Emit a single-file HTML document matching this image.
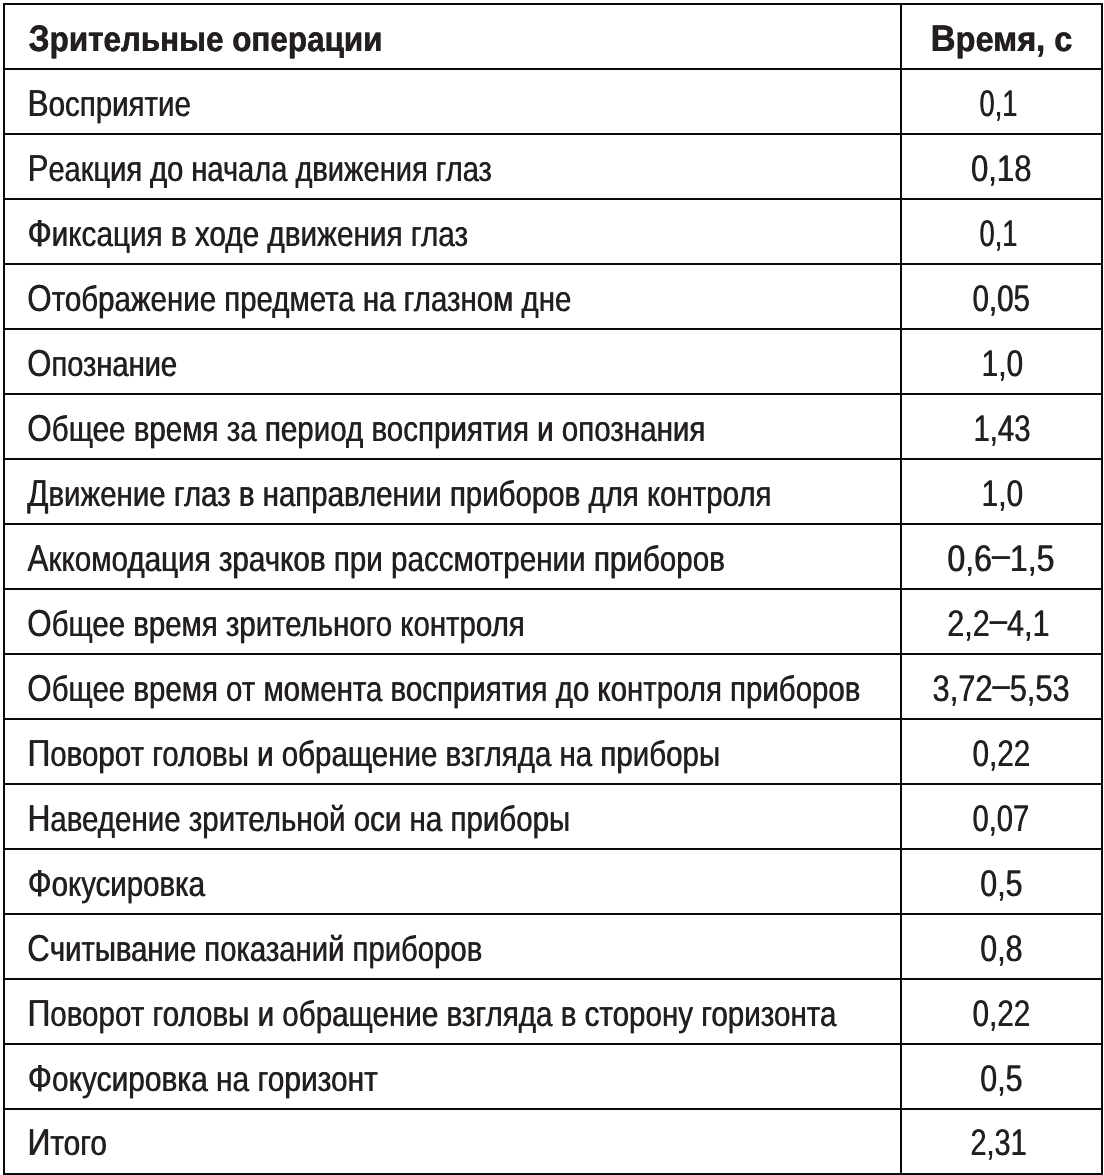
<!DOCTYPE html>
<html lang="ru">
<head>
<meta charset="utf-8">
<title>Зрительные операции</title>
<style>
html,body{margin:0;padding:0;background:#fff;}
svg{display:block;}
text{font-family:"Liberation Sans",sans-serif;fill:#231f20;text-rendering:geometricPrecision;text-shadow:0.7px 0 0 #231f20;}
.b{font-weight:bold;text-shadow:0.3px 0 0 #231f20;stroke:#231f20;stroke-width:0.2px;}
</style>
</head>
<body>
<svg width="1104" height="1175" viewBox="0 0 1104 1175">
<rect x="0" y="0" width="1104" height="1175" fill="#fff"/>
<g fill="#0a0a0a">
<rect x="3" y="3" width="1100" height="2"/>
<rect x="3" y="68" width="1100" height="2"/>
<rect x="3" y="133" width="1100" height="2"/>
<rect x="3" y="198" width="1100" height="2"/>
<rect x="3" y="263" width="1100" height="2"/>
<rect x="3" y="328" width="1100" height="2"/>
<rect x="3" y="393" width="1100" height="2"/>
<rect x="3" y="458" width="1100" height="2"/>
<rect x="3" y="523" width="1100" height="2"/>
<rect x="3" y="588" width="1100" height="2"/>
<rect x="3" y="653" width="1100" height="2"/>
<rect x="3" y="718" width="1100" height="2"/>
<rect x="3" y="783" width="1100" height="2"/>
<rect x="3" y="848" width="1100" height="2"/>
<rect x="3" y="913" width="1100" height="2"/>
<rect x="3" y="978" width="1100" height="2"/>
<rect x="3" y="1043" width="1100" height="2"/>
<rect x="3" y="1108" width="1100" height="2"/>
<rect x="3" y="1173" width="1100" height="2"/>
<rect x="3" y="3" width="2" height="1172"/>
<rect x="900" y="3" width="2" height="1172"/>
<rect x="1101" y="3" width="2" height="1172"/>
</g>
<text class="b" x="28.48" y="51.00" textLength="353.88" lengthAdjust="spacingAndGlyphs"><tspan font-size="37.0">З</tspan><tspan font-size="34.7">рительные операции</tspan></text>
<text class="b" x="930.53" y="51.00" textLength="141.69" lengthAdjust="spacingAndGlyphs"><tspan font-size="37.0">В</tspan><tspan font-size="34.7">ремя, с</tspan></text>
<text x="27.35" y="115.97" textLength="163.26" lengthAdjust="spacingAndGlyphs"><tspan font-size="37.6">В</tspan><tspan font-size="35.3">осприятие</tspan></text>
<text font-size="37.0" x="979.25" y="115.97" textLength="37.94" lengthAdjust="spacingAndGlyphs">0,1</text>
<text x="27.48" y="180.94" textLength="464.11" lengthAdjust="spacingAndGlyphs"><tspan font-size="37.6">Р</tspan><tspan font-size="35.3">еакция до начала движения глаз</tspan></text>
<text font-size="37.0" x="970.63" y="180.94" textLength="60.65" lengthAdjust="spacingAndGlyphs">0,18</text>
<text x="27.32" y="245.91" textLength="440.48" lengthAdjust="spacingAndGlyphs"><tspan font-size="37.6">Ф</tspan><tspan font-size="35.3">иксация в ходе движения глаз</tspan></text>
<text font-size="37.0" x="979.25" y="245.91" textLength="37.94" lengthAdjust="spacingAndGlyphs">0,1</text>
<text x="27.03" y="310.88" textLength="544.08" lengthAdjust="spacingAndGlyphs"><tspan font-size="37.6">О</tspan><tspan font-size="35.3">тображение предмета на глазном дне</tspan></text>
<text font-size="37.0" x="972.18" y="310.88" textLength="57.56" lengthAdjust="spacingAndGlyphs">0,05</text>
<text x="27.05" y="375.85" textLength="149.75" lengthAdjust="spacingAndGlyphs"><tspan font-size="37.6">О</tspan><tspan font-size="35.3">познание</tspan></text>
<text font-size="37.0" x="981.23" y="375.85" textLength="41.65" lengthAdjust="spacingAndGlyphs">1,0</text>
<text x="27.03" y="440.82" textLength="678.08" lengthAdjust="spacingAndGlyphs"><tspan font-size="37.6">О</tspan><tspan font-size="35.3">бщее время за период восприятия и опознания</tspan></text>
<text font-size="37.0" x="973.17" y="440.82" textLength="57.07" lengthAdjust="spacingAndGlyphs">1,43</text>
<text x="26.90" y="505.79" textLength="744.30" lengthAdjust="spacingAndGlyphs"><tspan font-size="37.6">Д</tspan><tspan font-size="35.3">вижение глаз в направлении приборов для контроля</tspan></text>
<text font-size="37.0" x="981.23" y="505.79" textLength="41.65" lengthAdjust="spacingAndGlyphs">1,0</text>
<text x="27.20" y="570.76" textLength="697.44" lengthAdjust="spacingAndGlyphs"><tspan font-size="37.6">А</tspan><tspan font-size="35.3">ккомодация зрачков при рассмотрении приборов</tspan></text>
<text font-size="37.0" x="947.10" y="570.76" textLength="107.10" lengthAdjust="spacingAndGlyphs">0,6<tspan dy="-3.5">–</tspan><tspan dy="3.5">1,5</tspan></text>
<text x="27.03" y="635.73" textLength="497.36" lengthAdjust="spacingAndGlyphs"><tspan font-size="37.6">О</tspan><tspan font-size="35.3">бщее время зрительного контроля</tspan></text>
<text font-size="37.0" x="946.96" y="635.73" textLength="102.30" lengthAdjust="spacingAndGlyphs">2,2<tspan dy="-3.5">–</tspan><tspan dy="3.5">4,1</tspan></text>
<text x="27.03" y="700.70" textLength="833.11" lengthAdjust="spacingAndGlyphs"><tspan font-size="37.6">О</tspan><tspan font-size="35.3">бщее время от момента восприятия до контроля приборов</tspan></text>
<text font-size="37.0" x="932.24" y="700.70" textLength="137.13" lengthAdjust="spacingAndGlyphs">3,72<tspan dy="-3.5">–</tspan><tspan dy="3.5">5,53</tspan></text>
<text x="27.35" y="765.67" textLength="692.51" lengthAdjust="spacingAndGlyphs"><tspan font-size="37.6">П</tspan><tspan font-size="35.3">оворот головы и обращение взгляда на приборы</tspan></text>
<text font-size="37.0" x="972.17" y="765.67" textLength="57.87" lengthAdjust="spacingAndGlyphs">0,22</text>
<text x="27.35" y="830.64" textLength="542.61" lengthAdjust="spacingAndGlyphs"><tspan font-size="37.6">Н</tspan><tspan font-size="35.3">аведение зрительной оси на приборы</tspan></text>
<text font-size="37.0" x="972.19" y="830.64" textLength="56.84" lengthAdjust="spacingAndGlyphs">0,07</text>
<text x="27.53" y="895.61" textLength="177.20" lengthAdjust="spacingAndGlyphs"><tspan font-size="37.6">Ф</tspan><tspan font-size="35.3">окусировка</tspan></text>
<text font-size="37.0" x="980.05" y="895.61" textLength="42.20" lengthAdjust="spacingAndGlyphs">0,5</text>
<text x="27.04" y="960.58" textLength="454.90" lengthAdjust="spacingAndGlyphs"><tspan font-size="37.6">С</tspan><tspan font-size="35.3">читывание показаний приборов</tspan></text>
<text font-size="37.0" x="980.05" y="960.58" textLength="42.20" lengthAdjust="spacingAndGlyphs">0,8</text>
<text x="27.34" y="1025.55" textLength="808.79" lengthAdjust="spacingAndGlyphs"><tspan font-size="37.6">П</tspan><tspan font-size="35.3">оворот головы и обращение взгляда в сторону горизонта</tspan></text>
<text font-size="37.0" x="972.17" y="1025.55" textLength="57.87" lengthAdjust="spacingAndGlyphs">0,22</text>
<text x="27.51" y="1090.52" textLength="350.05" lengthAdjust="spacingAndGlyphs"><tspan font-size="37.6">Ф</tspan><tspan font-size="35.3">окусировка на горизонт</tspan></text>
<text font-size="37.0" x="980.05" y="1090.52" textLength="42.20" lengthAdjust="spacingAndGlyphs">0,5</text>
<text x="27.33" y="1155.49" textLength="79.29" lengthAdjust="spacingAndGlyphs"><tspan font-size="37.6">И</tspan><tspan font-size="35.3">того</tspan></text>
<text font-size="37.0" x="970.25" y="1155.49" textLength="56.18" lengthAdjust="spacingAndGlyphs">2,31</text>
</svg>
</body>
</html>
